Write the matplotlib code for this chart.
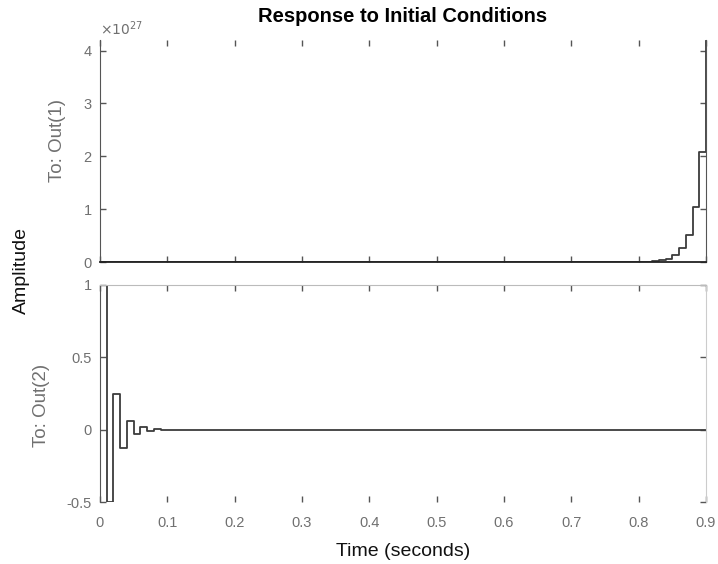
import numpy as np
import matplotlib
matplotlib.use("Agg")
import matplotlib.pyplot as plt

plt.rcParams['axes.unicode_minus'] = False
plt.rcParams['font.family'] = ['Liberation Sans', 'DejaVu Sans']

# time grid (sample time 0.01 s, 0 .. 0.9 s)
time = np.round(np.arange(0, 91) * 0.01, 2)

# Out(1) in units of 1e27: essentially zero until the final samples
out1_head = [0.0] * 80
out1_tail = [0.004, 0.008, 0.016, 0.033, 0.065, 0.13, 0.26, 0.52, 1.05, 2.09, 4.18]
out1 = np.array(out1_head + out1_tail)

# Out(2): decaying alternating response
out2_head = [1.0, -0.5, 0.25, -0.125, 0.0625, -0.031, 0.016, -0.008, 0.004,
             -0.002, 0.001, -0.0005, 0.0002]
out2 = np.array(out2_head + [0.0] * (91 - len(out2_head)))

xticks = [0, 0.1, 0.2, 0.3, 0.4, 0.5, 0.6, 0.7, 0.8, 0.9]
xticklabels = ['0', '0.1', '0.2', '0.3', '0.4', '0.5', '0.6', '0.7', '0.8', '0.9']
y1ticks = [0, 1, 2, 3, 4]
y2ticks = [-0.5, 0, 0.5, 1]
y2ticklabels = ['-0.5', '0', '0.5', '1']

fig = plt.figure(figsize=(7.18, 5.64), dpi=100)
W, H = 718, 564
L, R = 100 / W, 706 / W
ax1 = fig.add_axes([L, 1 - 262 / H, R - L, (262 - 40) / H])
ax2 = fig.add_axes([L, 1 - 502 / H, R - L, (502 - 285) / H])

line_col = '#3c3c3c'
tick_col = '#707070'

for ax in (ax1, ax2):
    ax.set_xlim(0, 0.9)
    ax.set_xticks(xticks)
    ax.tick_params(direction='in', length=4, width=1.0, colors='#555555',
                   labelcolor=tick_col, labelsize=10.5, top=True, right=True)
    ax.tick_params(axis='y', pad=6)
    ax.tick_params(axis='x', pad=10)

ax1.step(time, out1, where='post', color=line_col, lw=1.3)
ax1.set_ylim(0, 4.2)
ax1.set_yticks(y1ticks)
ax1.set_xticklabels([])
ax1.spines['top'].set_visible(False)
ax1.spines['left'].set_color('#555555')
ax1.spines['right'].set_color('#555555')
ax1.spines['bottom'].set_color('#222222')
ax1.spines['bottom'].set_linewidth(1.3)
ax1.text(0.0, 1.01, r'$\times 10^{27}$', transform=ax1.transAxes, color=tick_col,
         fontsize=10, ha='left', va='bottom', family='DejaVu Serif')
ax1.set_ylabel('To: Out(1)', color=tick_col, fontsize=13.5)
ax1.yaxis.set_label_coords((66 - 100) / 606, (262 - 140) / 222)

ax2.step(time, out2, where='post', color=line_col, lw=1.3)
ax2.set_ylim(-0.5, 1)
ax2.set_yticks(y2ticks)
ax2.set_yticklabels(y2ticklabels)
ax2.set_xticklabels(xticklabels)
ax2.spines['bottom'].set_visible(False)
ax2.spines['top'].set_color('#bbbbbb')
ax2.spines['right'].set_color('#cccccc')
ax2.spines['left'].set_color('#555555')
ax2.set_ylabel('To: Out(2)', color=tick_col, fontsize=13.5)
ax2.yaxis.set_label_coords((50 - 100) / 606, (502 - 405) / 217)
ax2.set_xlabel('Time (seconds)', fontsize=14, color='#111111')
ax2.xaxis.set_label_coords(0.5, -(543 - 502) / 217)

fig.text(0.5 * (L + R), 1 - 17 / H, 'Response to Initial Conditions',
         ha='center', va='center', fontsize=14.5, fontweight='bold')
fig.text(21 / W, 1 - 270 / H, 'Amplitude', rotation=90, ha='center', va='center',
         fontsize=14, color='#111111')

fig.savefig('out.png', dpi=100)
